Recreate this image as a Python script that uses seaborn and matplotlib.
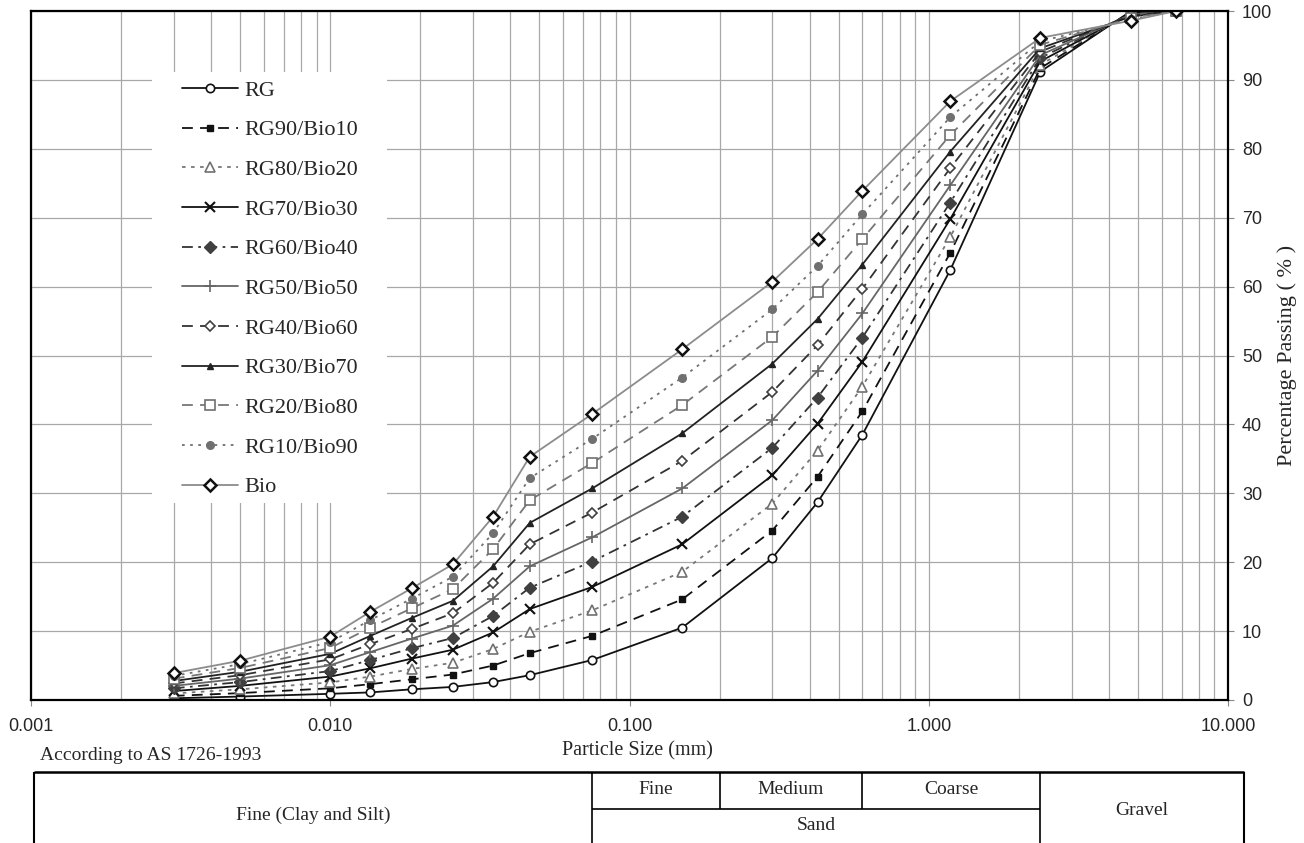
import matplotlib

matplotlib.use("Agg")
import matplotlib.pyplot as plt
import matplotlib.ticker as mticker
import numpy as np
import pandas as pd
import seaborn as sns
from matplotlib.patches import Rectangle

OUT_FILE = "out.png"

# sieve / hydrometer sizes (mm)
SIZES = [0.003, 0.005, 0.010, 0.0136, 0.0187, 0.0257, 0.035, 0.0464,
         0.075, 0.150, 0.300, 0.425, 0.600, 1.18, 2.36, 4.75, 6.7]

# percentage passing for each blend
RG = [0.25, 0.5, 0.9, 1.1, 1.55, 1.9, 2.6, 3.6, 5.8, 10.5, 20.6, 28.7, 38.5, 62.4, 91.2, 100.0, 100.0]
RG90_BIO10 = [0.6, 1.0, 1.7, 2.3, 3.0, 3.7, 5.0, 6.8, 9.3, 14.6, 24.6, 32.4, 41.9, 64.9, 91.7, 99.9, 100.0]
RG80_BIO20 = [0.95, 1.55, 2.55, 3.4, 4.5, 5.4, 7.4, 9.9, 13.0, 18.6, 28.5, 36.2, 45.5, 67.2, 92.2, 99.8, 100.0]
RG70_BIO30 = [1.3, 2.05, 3.4, 4.6, 6.0, 7.3, 9.8, 13.2, 16.4, 22.6, 32.6, 40.1, 49.1, 69.8, 92.7, 99.7, 100.0]
RG60_BIO40 = [1.7, 2.6, 4.2, 5.8, 7.5, 9.0, 12.2, 16.3, 20.1, 26.6, 36.6, 43.9, 52.6, 72.2, 93.2, 99.6, 100.0]
RG50_BIO50 = [2.05, 3.1, 5.05, 6.95, 8.9, 10.8, 14.7, 19.4, 23.6, 30.7, 40.6, 47.8, 56.1, 74.7, 93.6, 99.5, 100.0]
RG40_BIO60 = [2.4, 3.6, 5.9, 8.1, 10.3, 12.6, 17.0, 22.6, 27.2, 34.7, 44.7, 51.5, 59.7, 77.2, 94.1, 99.4, 100.0]
RG30_BIO70 = [2.75, 4.1, 6.7, 9.3, 11.9, 14.4, 19.4, 25.7, 30.7, 38.7, 48.8, 55.3, 63.2, 79.6, 94.6, 99.2, 100.0]
RG20_BIO80 = [3.1, 4.65, 7.55, 10.5, 13.3, 16.1, 21.9, 29.0, 34.4, 42.8, 52.7, 59.2, 66.9, 82.0, 95.1, 99.0, 100.0]
RG10_BIO90 = [3.5, 5.2, 8.4, 11.6, 14.7, 17.9, 24.2, 32.2, 37.9, 46.8, 56.7, 63.0, 70.5, 84.6, 95.6, 98.8, 100.0]
BIO = [3.9, 5.7, 9.2, 12.8, 16.2, 19.7, 26.6, 35.3, 41.5, 50.9, 60.7, 66.9, 73.9, 86.9, 96.1, 98.6, 100.0]

MIXES = ["RG", "RG90/Bio10", "RG80/Bio20", "RG70/Bio30", "RG60/Bio40", "RG50/Bio50",
         "RG40/Bio60", "RG30/Bio70", "RG20/Bio80", "RG10/Bio90", "Bio"]
PASSING = [RG, RG90_BIO10, RG80_BIO20, RG70_BIO30, RG60_BIO40, RG50_BIO50,
           RG40_BIO60, RG30_BIO70, RG20_BIO80, RG10_BIO90, BIO]

# AS 1726-1993 class boundaries (mm)
SAND_BOUNDS = [0.075, 0.2, 0.6, 2.36]
SAND_CLASSES = ["Fine", "Medium", "Coarse"]

STYLES = {
    "RG": dict(color="#111111", ls="-", marker="o", ms=6, mfc="white", mec="#111111", mew=1.2),
    "RG90/Bio10": dict(color="#111111", ls=(0, (6, 4)), marker="s", ms=5, mfc="#111111", mec="#111111", mew=1),
    "RG80/Bio20": dict(color="#777777", ls=(0, (2, 3)), marker="^", ms=6.5, mfc="white", mec="#707070", mew=1.2),
    "RG70/Bio30": dict(color="#111111", ls="-", marker="x", ms=7, mfc="#111111", mec="#111111", mew=1.5),
    "RG60/Bio40": dict(color="#333333", ls=(0, (6, 3, 1.5, 3)), marker="D", ms=6, mfc="#404040", mec="#404040", mew=1),
    "RG50/Bio50": dict(color="#666666", ls="-", marker="+", ms=8, mfc="#666666", mec="#666666", mew=1.2),
    "RG40/Bio60": dict(color="#333333", ls=(0, (6, 4)), marker="D", ms=5, mfc="white", mec="#404040", mew=1.2),
    "RG30/Bio70": dict(color="#222222", ls="-", marker="^", ms=5, mfc="#222222", mec="#222222", mew=1),
    "RG20/Bio80": dict(color="#777777", ls=(0, (6, 4)), marker="s", ms=6.5, mfc="white", mec="#707070", mew=1.2),
    "RG10/Bio90": dict(color="#707070", ls=(0, (1.5, 3)), marker="o", ms=5.5, mfc="#707070", mec="#707070", mew=1),
    "Bio": dict(color="#8c8c8c", ls="-", marker="D", ms=6.5, mfc="white", mec="#111111", mew=1.8),
}

SERIF = "Liberation Serif"
SANS = "Liberation Sans"


def draw_curves(ax):
    for name, vals in zip(MIXES, PASSING):
        st = STYLES[name]
        df = pd.DataFrame({"size": SIZES, "passing": vals})
        sns.lineplot(
            data=df, x="size", y="passing", ax=ax, label=name,
            color=st["color"], linestyle=st["ls"], linewidth=1.3,
            marker=st["marker"], markersize=st["ms"],
            markerfacecolor=st["mfc"], markeredgecolor=st["mec"],
            markeredgewidth=st["mew"], errorbar=None, sort=False,
        )


def style_axes(ax):
    ax.set_xscale("log")
    ax.set_xlim(0.001, 10)
    ax.set_ylim(0, 100)
    ax.xaxis.set_major_locator(mticker.LogLocator(base=10))
    ax.xaxis.set_minor_locator(mticker.LogLocator(base=10, subs=np.arange(2, 10)))
    ax.xaxis.set_minor_formatter(mticker.NullFormatter())
    ax.xaxis.set_major_formatter(mticker.FuncFormatter(lambda v, _: f"{v:.3f}"))
    ax.set_yticks(np.arange(0, 101, 10))

    ax.yaxis.tick_right()
    ax.yaxis.set_label_position("right")
    ax.grid(which="major", axis="both", color="#a8a8a8", lw=0.9)
    ax.grid(which="minor", axis="x", color="#a8a8a8", lw=0.9)
    ax.set_axisbelow(True)

    ax.tick_params(axis="both", which="major", length=4, width=0.8, color="#888888",
                   labelsize=13, labelfontfamily=SANS, pad=6)
    ax.tick_params(axis="x", which="minor", length=0)
    ax.tick_params(axis="x", which="major", pad=9)
    for sp in ax.spines.values():
        sp.set_visible(True)
        sp.set_color("black")
        sp.set_linewidth(1.6)

    ax.set_xlabel("Particle Size (mm)", fontsize=14.5, family=SERIF)
    ax.xaxis.set_label_coords(0.507, -0.06)
    ax.set_ylabel("Percentage Passing ( % )", fontsize=16, family=SERIF)
    ax.yaxis.set_label_coords(1.041, 0.5)

    # white patch behind the legend hides the grid there
    ax.add_patch(Rectangle((0.101, 0.286), 0.196, 0.626, transform=ax.transAxes,
                           facecolor="white", edgecolor="none", zorder=1))
    ax.legend(
        loc="upper left", bbox_to_anchor=(0.1225, 0.906), borderaxespad=0,
        frameon=False, prop={"family": SERIF, "size": 16},
        handlelength=2.5, handletextpad=0.3, labelspacing=0.86, borderpad=0.2,
    )


def draw_table(fig, ax):
    pos = ax.get_position()
    tab = fig.add_axes([pos.x0, 0, pos.width, 71 / 843])
    tab.set_xscale("log")
    tab.set_xlim(ax.get_xlim())
    tab.set_ylim(0, 1)
    tab.axis("off")

    left, right = 0.00102, 11.3
    mid = 0.479
    kw = dict(color="black", clip_on=False)
    tab.hlines(1, left, right, lw=1.8, **kw)
    tab.vlines([left, right], -0.3, 1, lw=1.5, **kw)
    tab.vlines([SAND_BOUNDS[0], SAND_BOUNDS[-1]], -0.3, 1, lw=1.2, **kw)
    tab.vlines(SAND_BOUNDS[1:-1], mid, 1, lw=1.2, **kw)
    tab.hlines(mid, SAND_BOUNDS[0], SAND_BOUNDS[-1], lw=1.2, **kw)

    tkw = dict(family=SERIF, fontsize=14, ha="center", va="center")
    tab.text(np.sqrt(left * SAND_BOUNDS[0]), 0.39, "Fine (Clay and Silt)", **tkw)
    tab.text(np.sqrt(SAND_BOUNDS[-1] * right), 0.46, "Gravel", **tkw)
    for lo, hi, name in zip(SAND_BOUNDS[:-1], SAND_BOUNDS[1:], SAND_CLASSES):
        tab.text(np.sqrt(lo * hi), 0.75, name, **tkw)
    tab.text(np.sqrt(SAND_BOUNDS[0] * SAND_BOUNDS[-1]), 0.25, "Sand", **tkw)

    fig.text(40 / 1304, 1 - 755 / 843, "According to AS 1726-1993",
             family=SERIF, fontsize=14, ha="left", va="center")


def main():
    sns.set_style("ticks")
    plt.rcParams["font.family"] = [SERIF, "DejaVu Serif"]

    fig = plt.figure(figsize=(13.04, 8.43), dpi=100)
    ax = fig.add_axes([31 / 1304, 1 - 700 / 843, 1197 / 1304, 689 / 843])
    draw_curves(ax)
    style_axes(ax)
    draw_table(fig, ax)
    fig.savefig(OUT_FILE, dpi=100, facecolor="white")
    plt.close(fig)


if __name__ == "__main__":
    main()
